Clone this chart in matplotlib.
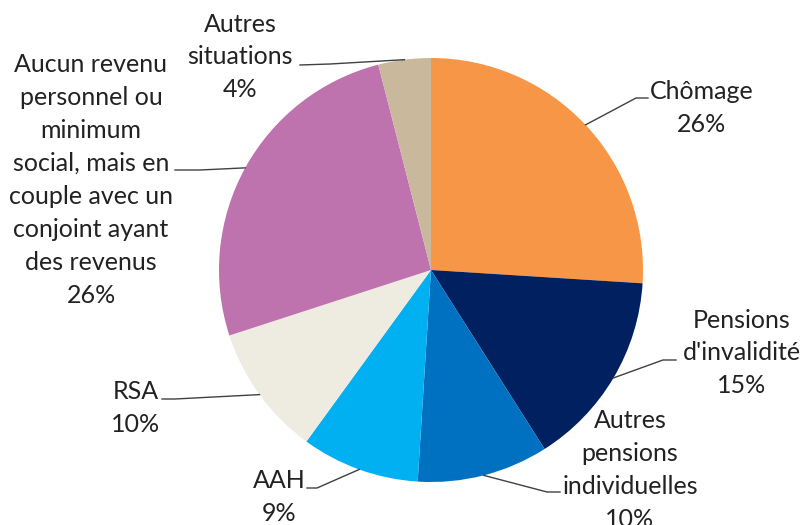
import numpy as np
import matplotlib.pyplot as plt

# données du graphique
categories = ['Chômage', "Pensions\nd'invalidité", 'Autres\npensions\nindividuelles', 'AAH', 'RSA',
              'Aucun revenu\npersonnel ou\nminimum\nsocial, mais en\ncouple avec un\nconjoint ayant\ndes revenus',
              'Autres\nsituations']
parts = [26, 15, 10, 9, 10, 26, 4]
couleurs = ['#F79646', '#002060', '#0070C0', '#00B0F0', '#EEECE1', '#BE72AE', '#CAB89C']

W, H = 801, 525
cx, cy, R = 431, 270, 212

# position des étiquettes (pixels, origine en haut à gauche): texte, coude, fin du trait
etiquettes = [
    ((702, 108), (636, 98), (648, 98)),
    ((742, 353), (663, 360), (676, 360)),
    ((630, 470), (547, 492), (560, 492)),
    ((279, 497), (317, 488), (307, 488)),
    ((136, 408), (175, 399), (162, 399)),
    ((91, 180), (200, 170), (175, 170)),
    ((240, 57), (330, 64), (300, 65)),
]

def py(y):
    return H - y

fig = plt.figure(figsize=(W / 100, H / 100), dpi=100)
ax = fig.add_axes([0, 0, 1, 1])

wedges, _ = ax.pie(parts, colors=couleurs, startangle=90, counterclock=False,
                   center=(cx, py(cy)), radius=R, wedgeprops=dict(linewidth=0))
ax.set_xlim(0, W)
ax.set_ylim(0, H)
ax.set_aspect('equal')
ax.axis('off')

for w, cat, p, (txt, coude, fin) in zip(wedges, categories, parts, etiquettes):
    ang = np.deg2rad((w.theta1 + w.theta2) / 2)
    x0 = cx + R * np.cos(ang)
    y0 = py(cy) + R * np.sin(ang)
    ax.plot([x0, coude[0], fin[0]], [y0, py(coude[1]), py(fin[1])], color='#404040', lw=1)
    ax.text(txt[0], py(txt[1]), cat + '\n' + str(p) + '%', ha='center', va='center',
            fontsize=18, family='Lato', color='#222222', linespacing=1.52)

fig.savefig('out.png', dpi=100)
